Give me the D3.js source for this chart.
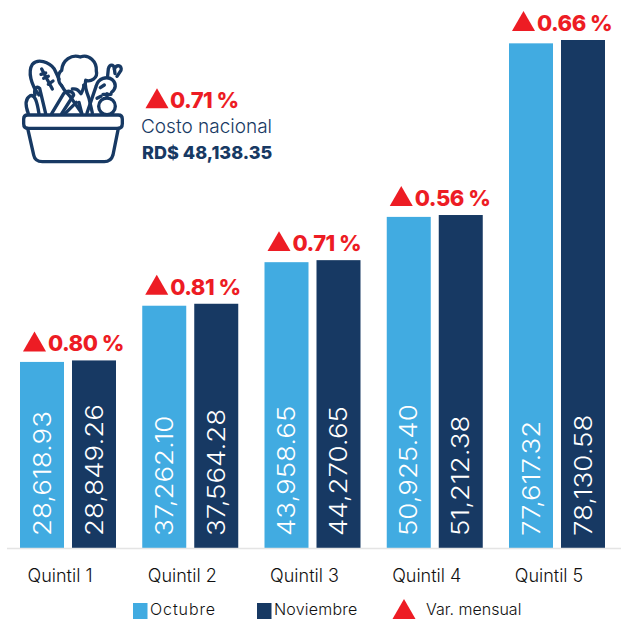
<!DOCTYPE html>
<html><head><meta charset="utf-8">
<script src="https://cdn.jsdelivr.net/npm/d3@7"></script>
<style>html,body{margin:0;padding:0;background:#fff}svg{display:block}text{font-family:Inter,Lato,sans-serif}</style>
</head><body><svg id="c" width="621" height="619"></svg>
<script>
const categories = ["Quintil 1","Quintil 2","Quintil 3","Quintil 4","Quintil 5"];
const octubre = [28618.93,37262.10,43958.65,50925.40,77617.32];
const noviembre = [28849.26,37564.28,44270.65,51212.38,78130.58];
const variacion = ["0.80 %","0.81 %","0.71 %","0.56 %","0.66 %"];
const seriesNames = ["Octubre","Noviembre"];
const BLUE="#41abe1", NAVY="#173963", RED="#ed1c24";

const svg=d3.select("#c");
const x0=d3.scaleBand().domain(categories).range([20,605]).paddingInner(26.25/122.25);
const x1=d3.scaleBand().domain(seriesNames).range([0,x0.bandwidth()]).paddingInner(8/52);
const y=d3.scaleLinear().domain([0,78130.58]).range([548,40]);
const colors=d3.scaleOrdinal().domain(seriesNames).range([BLUE,NAVY]);
const tri=d3.symbol().type(d3.symbolTriangle);

[octubre,noviembre].forEach((vals,si)=>{
  const name=seriesNames[si];
  const g=svg.append("g");
  g.selectAll("rect").data(vals).join("rect")
    .attr("x",(d,i)=>x0(categories[i])+x1(name))
    .attr("y",d=>y(d)).attr("width",x1.bandwidth())
    .attr("height",d=>y(0)-y(d)).attr("fill",colors(name));
  g.selectAll("text").data(vals).join("text")
    .attr("transform",(d,i)=>`translate(${x0(categories[i])+x1(name)+x1.bandwidth()/2+8.5},536) rotate(-90) scale(1.15,1)`)
    .attr("font-size",24).attr("font-weight",300).attr("fill","#fff")
    .text(d=>d3.format(",.2f")(d));
});

// baseline + category axis
const axis=svg.append("g").attr("transform","translate(0,548)")
  .call(d3.axisBottom(x0).tickSize(0).tickPadding(21));
axis.select(".domain").attr("d","M7,0.5H621").attr("stroke","#e4e4e4").attr("stroke-width",1.5);
axis.selectAll("text").attr("dx",-8).attr("font-size",18).attr("font-weight",300).attr("fill","#111").style("font-family","Inter");

// variation labels
const topOf=i=>y(Math.max(octubre[i],noviembre[i]));
const varG=svg.append("g").selectAll("g").data(variacion).join("g")
  .attr("transform",(d,i)=>`translate(${x0(categories[i])},${topOf(i)-9})`);
varG.append("path").attr("d",tri.size(230)).attr("transform","translate(14.5,-6.7)").attr("fill",RED);
varG.append("text").attr("x",28).attr("font-size",22).attr("font-weight",800).attr("letter-spacing",-0.5).attr("fill",RED).text(d=>d);

// national cost
const nat=svg.append("g");
nat.append("path").attr("d",tri.size(230)).attr("transform","translate(157,101.5)").attr("fill",RED);
nat.append("text").attr("x",170).attr("y",108).attr("font-size",22).attr("font-weight",800).attr("letter-spacing",-0.5).attr("fill",RED).text("0.71 %");
nat.append("text").attr("x",141).attr("y",133).attr("font-size",19).attr("font-weight",300).attr("fill",NAVY).text("Costo nacional");
nat.append("text").attr("x",142).attr("y",159).attr("font-size",18).attr("font-weight",800).attr("fill",NAVY).text("RD$ 48,138.35");

// icon (drawn in 3x units)
const ic=svg.append("g").attr("transform","translate(15,45) scale(0.3333)").attr("fill","none").attr("stroke",NAVY).attr("stroke-width",10).attr("stroke-linecap","round").attr("stroke-linejoin","round");
[
"M38,210H310Q322,210 322,222V236Q322,250 308,250H40Q26,250 26,236V222Q26,210 38,210Z",
"M38,250L56,330Q60,350 82,350H268Q288,350 294,330L310,250",
"M72,150C48,120 38,80 52,58C68,40 102,50 118,72L132,102",
"M80,72L112,132M86,100L100,94M78,88L92,84M100,118L114,108",
"M140,122C128,110 126,86 140,76C142,46 170,26 196,36C222,26 246,50 244,78C250,100 226,112 212,106C208,122 214,140 222,160L232,204",
"M140,122C150,142 164,150 172,164L200,204",
"M172,132C186,130 190,136 198,146C204,134 208,128 206,120",
"M216,204L244,122C250,100 276,92 292,104C306,116 302,132 290,142",
"M256,128L268,120M246,160L258,154",
"M278,92L280,72C284,56 296,58 298,70L300,86",
"M298,72C306,56 322,62 318,76L306,94",
"M276,158V146M264,148H288",
"M40,206C30,180 32,160 46,152C60,148 66,170 72,206",
"M60,150C56,134 64,120 74,130L92,206",
"M110,206L146,146C156,134 174,138 176,150L140,206",
"M150,206L184,172M192,172L200,204",
].forEach(d=>ic.append("path").attr("d",d));
ic.append("circle").attr("cx",276).attr("cy",184).attr("r",25);

// legend
const leg=svg.append("g");
seriesNames.forEach((n,i)=>{
  const lx=[133,257][i];
  leg.append("rect").attr("x",lx).attr("y",603).attr("width",14.5).attr("height",16).attr("fill",colors(n));
  leg.append("text").attr("x",lx+17).attr("y",615).attr("font-size",16).attr("font-weight",300).attr("letter-spacing",[0.9,0.2][i]).attr("fill","#111").text(n);
});
leg.append("path").attr("d",tri.size(230)).attr("transform","translate(404,612.3)").attr("fill",RED);
leg.append("text").attr("x",426).attr("y",615).attr("font-size",16).attr("font-weight",300).attr("fill","#111").text("Var. mensual");
</script></body></html>
